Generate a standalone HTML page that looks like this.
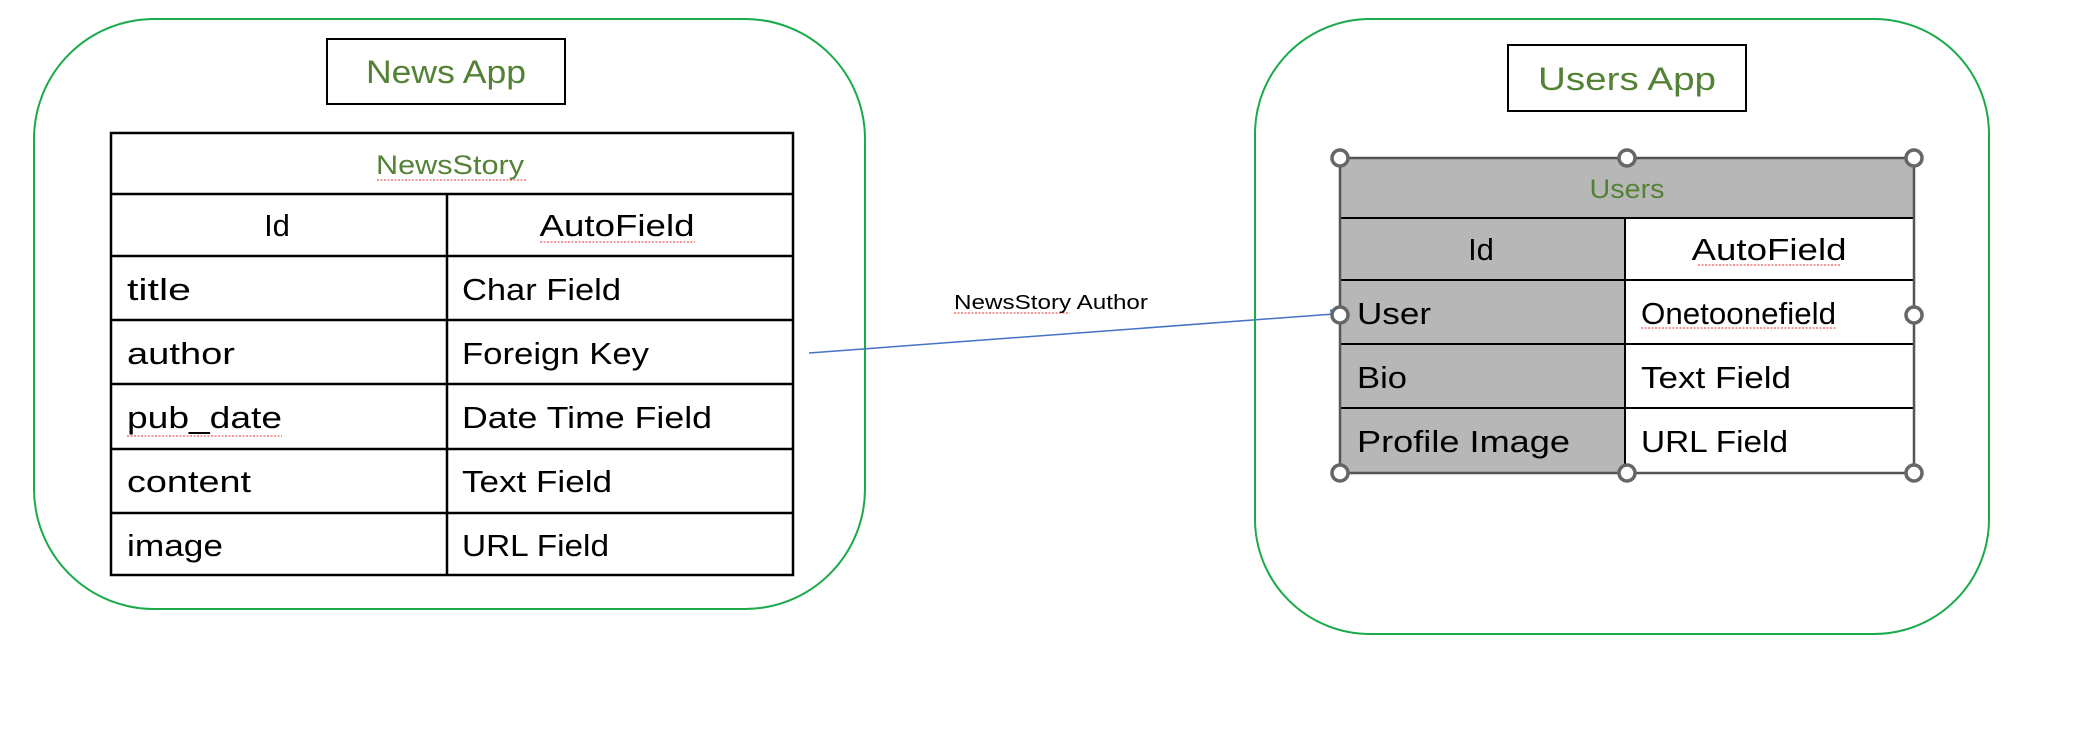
<!DOCTYPE html>
<html><head><meta charset="utf-8"><style>
html,body{margin:0;padding:0;background:#fff;width:2082px;height:733px;overflow:hidden}
svg{display:block}
text{font-family:"Liberation Sans",sans-serif}
</style></head><body>
<svg width="2082" height="733" viewBox="0 0 2082 733" xmlns="http://www.w3.org/2000/svg">
<rect x="34" y="19" width="831" height="590" rx="120" fill="none" stroke="#1aaa4a" stroke-width="2"/>
<rect x="327" y="39" width="238" height="65" fill="#fff" stroke="#000" stroke-width="2"/>
<text x="446" y="83" font-size="32" fill="#548235" text-anchor="middle" textLength="160" lengthAdjust="spacingAndGlyphs">News App</text>
<g stroke="#000" stroke-width="2.5" fill="none">
<rect x="111" y="133" width="682" height="442"/>
<line x1="111" y1="194" x2="793" y2="194"/>
<line x1="111" y1="256" x2="793" y2="256"/>
<line x1="111" y1="320" x2="793" y2="320"/>
<line x1="111" y1="384" x2="793" y2="384"/>
<line x1="111" y1="449" x2="793" y2="449"/>
<line x1="111" y1="513" x2="793" y2="513"/>
<line x1="447" y1="194" x2="447" y2="575"/>
</g>
<g font-size="31" fill="#000">
<text x="450" y="174" font-size="27" fill="#548235" text-anchor="middle" textLength="148" lengthAdjust="spacingAndGlyphs">NewsStory</text>
<text x="277" y="236" text-anchor="middle">Id</text>
<text x="617" y="236" text-anchor="middle" textLength="155" lengthAdjust="spacingAndGlyphs">AutoField</text>
<text x="127" y="300" textLength="64" lengthAdjust="spacingAndGlyphs">title</text>
<text x="462" y="300" textLength="159" lengthAdjust="spacingAndGlyphs">Char Field</text>
<text x="127" y="364" textLength="108" lengthAdjust="spacingAndGlyphs">author</text>
<text x="462" y="364" textLength="187" lengthAdjust="spacingAndGlyphs">Foreign Key</text>
<text x="127" y="428" textLength="155" lengthAdjust="spacingAndGlyphs">pub_date</text>
<text x="462" y="428" textLength="250" lengthAdjust="spacingAndGlyphs">Date Time Field</text>
<text x="127" y="492" textLength="124" lengthAdjust="spacingAndGlyphs">content</text>
<text x="462" y="492" textLength="150" lengthAdjust="spacingAndGlyphs">Text Field</text>
<text x="127" y="556" textLength="96" lengthAdjust="spacingAndGlyphs">image</text>
<text x="462" y="556" textLength="147" lengthAdjust="spacingAndGlyphs">URL Field</text>
</g>
<g stroke="#e33" stroke-width="1" stroke-dasharray="2 1.5">
<line x1="377" y1="180" x2="527" y2="180"/>
<line x1="540" y1="242" x2="695" y2="242"/>
<line x1="127" y1="436" x2="282" y2="436"/>
<line x1="1698" y1="265" x2="1840" y2="265"/>
<line x1="1641" y1="328" x2="1836" y2="328"/>
<line x1="954" y1="313" x2="1070" y2="313"/>
</g>
<line x1="809" y1="353" x2="1334" y2="314" stroke="#4472c4" stroke-width="1.5"/>
<polygon points="1340,313 1330,309 1331,319" fill="#4472c4"/>
<text x="954" y="309" font-size="20" fill="#000" textLength="194" lengthAdjust="spacingAndGlyphs">NewsStory Author</text>
<rect x="1255" y="19" width="734" height="615" rx="115" fill="none" stroke="#1aaa4a" stroke-width="2"/>
<rect x="1508" y="45" width="238" height="66" fill="#fff" stroke="#000" stroke-width="2"/>
<text x="1627" y="90" font-size="32" fill="#548235" text-anchor="middle" textLength="178" lengthAdjust="spacingAndGlyphs">Users App</text>
<rect x="1340" y="158" width="574" height="60" fill="#b7b7b7"/>
<rect x="1340" y="218" width="285" height="255" fill="#b7b7b7"/>
<g stroke="#000" stroke-width="2" fill="none">
<line x1="1625" y1="218" x2="1625" y2="473"/>
<line x1="1340" y1="218" x2="1914" y2="218"/>
<line x1="1340" y1="280" x2="1914" y2="280"/>
<line x1="1340" y1="344" x2="1914" y2="344"/>
<line x1="1340" y1="408" x2="1914" y2="408"/>
</g>
<rect x="1340" y="158" width="574" height="315" fill="none" stroke="#555" stroke-width="2.5"/>
<g font-size="31" fill="#000">
<text x="1627" y="198" font-size="27" fill="#548235" text-anchor="middle" textLength="75" lengthAdjust="spacingAndGlyphs">Users</text>
<text x="1481" y="260" text-anchor="middle">Id</text>
<text x="1769" y="260" text-anchor="middle" textLength="155" lengthAdjust="spacingAndGlyphs">AutoField</text>
<text x="1357" y="324" textLength="74" lengthAdjust="spacingAndGlyphs">User</text>
<text x="1641" y="324" textLength="195" lengthAdjust="spacingAndGlyphs">Onetoonefield</text>
<text x="1357" y="388" textLength="50" lengthAdjust="spacingAndGlyphs">Bio</text>
<text x="1641" y="388" textLength="150" lengthAdjust="spacingAndGlyphs">Text Field</text>
<text x="1357" y="452" textLength="213" lengthAdjust="spacingAndGlyphs">Profile Image</text>
<text x="1641" y="452" textLength="147" lengthAdjust="spacingAndGlyphs">URL Field</text>
</g>
<g fill="#fff" stroke="#666" stroke-width="3.5">
<circle cx="1340" cy="158" r="8"/><circle cx="1627" cy="158" r="8"/><circle cx="1914" cy="158" r="8"/>
<circle cx="1340" cy="315" r="8"/><circle cx="1914" cy="315" r="8"/>
<circle cx="1340" cy="473" r="8"/><circle cx="1627" cy="473" r="8"/><circle cx="1914" cy="473" r="8"/>
</g>
</svg>
</body></html>
